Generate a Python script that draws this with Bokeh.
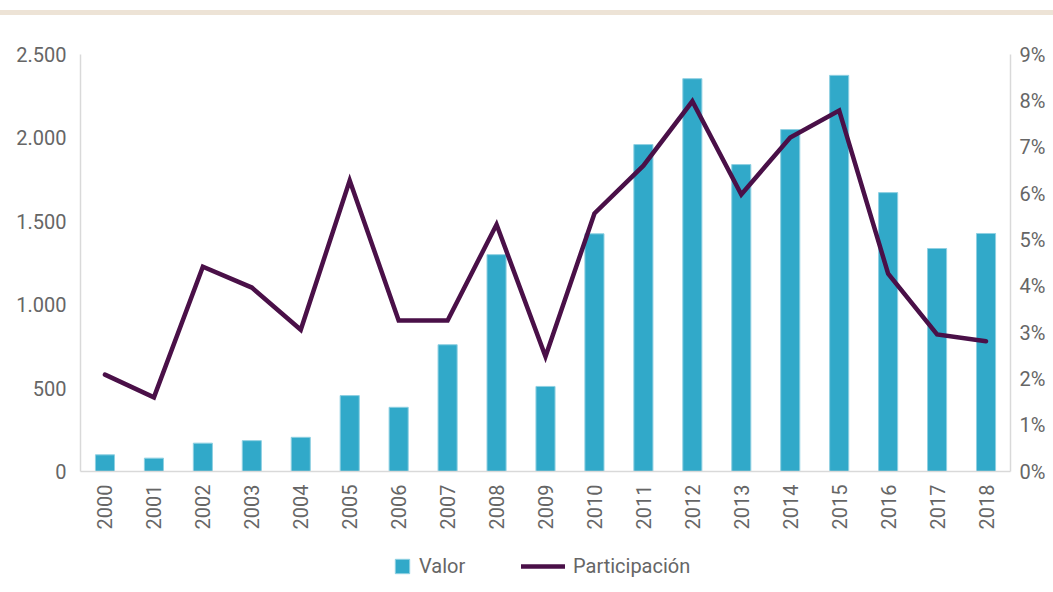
from bokeh.plotting import figure
from bokeh.models import (Range1d, LinearAxis, FactorRange, FixedTicker, Legend,
                          LegendItem, ColumnDataSource, Div)
from bokeh.layouts import column
from bokeh.embed import file_html
from bokeh.resources import INLINE

years = [str(y) for y in range(2000, 2019)]
valor = [100, 80, 170, 185, 205, 455, 385, 760, 1300, 510, 1425,
         1960, 2355, 1840, 2050, 2375, 1672, 1337, 1427]
participacion = [2.09, 1.60, 4.42, 3.97, 3.06, 6.28, 3.26, 3.26, 5.33, 2.48, 5.57,
                 6.60, 7.99, 5.98, 7.21, 7.79, 4.27, 2.96, 2.81]
left_ticks = [0, 500, 1000, 1500, 2000, 2500]
left_labels = ["0", "500", "1.000", "1.500", "2.000", "2.500"]
right_ticks = list(range(0, 10))
right_labels = [f"{t}%" for t in right_ticks]

FONT = "Roboto"
TXT = "#666666"
AXC = "#D9D9D9"
BAR_FILL = "#31A9C9"
BAR_EDGE = "#8FD0E2"
LINE_C = "#4A1048"

src = ColumnDataSource(dict(year=years, valor=valor, part=participacion))

p = figure(x_range=FactorRange(factors=years, range_padding=0),
           y_range=Range1d(0, 2500),
           frame_width=930, frame_height=417,
           output_backend="svg", toolbar_location=None,
           min_border_left=80, min_border_right=40, min_border_top=38,
           min_border_bottom=0)
p.outline_line_color = None
p.xgrid.grid_line_color = None
p.ygrid.grid_line_color = None
p.background_fill_color = "white"
p.border_fill_color = "white"

p.extra_y_ranges = {"pct": Range1d(0, 9)}

bars = p.vbar(x="year", top="valor", width=0.39, source=src,
              fill_color=BAR_FILL, line_color=BAR_EDGE, line_width=1)
line = p.line(x="year", y="part", source=src, y_range_name="pct",
              line_color=LINE_C, line_width=4.5, line_join="miter", line_cap="round")

# left axis
ya = p.yaxis[0]
ya.ticker = FixedTicker(ticks=left_ticks)
ya.major_label_overrides = {t: l for t, l in zip(left_ticks, left_labels)}
ya.axis_line_color = AXC
ya.axis_line_width = 1.5
ya.major_tick_line_color = None
ya.minor_tick_line_color = None
ya.major_label_text_font = FONT
ya.major_label_text_font_size = "20px"
ya.major_label_text_color = TXT
ya.major_label_standoff = 8

# right axis
ra = LinearAxis(y_range_name="pct", ticker=FixedTicker(ticks=right_ticks))
ra.major_label_overrides = {t: l for t, l in zip(right_ticks, right_labels)}
ra.axis_line_color = AXC
ra.axis_line_width = 1.5
ra.major_tick_line_color = None
ra.minor_tick_line_color = None
ra.major_label_text_font = FONT
ra.major_label_text_font_size = "20px"
ra.major_label_text_color = TXT
ra.major_label_standoff = 3
p.add_layout(ra, "right")

# x axis
xa = p.xaxis[0]
xa.axis_line_color = AXC
xa.axis_line_width = 1.5
xa.major_tick_line_color = None
xa.minor_tick_line_color = None
xa.major_label_orientation = 1.5707963
xa.major_label_text_font = FONT
xa.major_label_text_font_size = "20px"
xa.major_label_text_color = TXT
xa.major_label_standoff = 7

# legend in its own small figure; its key renderers hold a placeholder far outside view
lg = figure(width=1050, height=55, output_backend="svg", toolbar_location=None,
            min_border=0, x_range=Range1d(0, 1), y_range=Range1d(0, 1))
lg.axis.visible = False
lg.grid.visible = False
lg.outline_line_color = None
key_src = ColumnDataSource(dict(x=[-500, -499], y=[-500, -500]))
lb = lg.vbar(x="x", top="y", bottom=-501, source=key_src, width=0.4,
             fill_color=BAR_FILL, line_color=BAR_EDGE, line_width=1)
ll = lg.line(x="x", y="y", source=key_src, line_color=LINE_C,
             line_width=4.5, line_cap="round")

common = dict(orientation="horizontal", label_text_font=FONT,
              label_text_font_size="20px", label_text_color=TXT,
              border_line_color=None, background_fill_alpha=0,
              glyph_height=18, padding=0, margin=0, label_standoff=8)
leg1 = Legend(items=[LegendItem(label="Valor", renderers=[lb])],
              location=(313, 9), glyph_width=18, **common)
leg2 = Legend(items=[LegendItem(label="Participación", renderers=[ll])],
              location=(441, 9), glyph_width=44, **common)
lg.add_layout(leg1, "center")
lg.add_layout(leg2, "center")

band = Div(text='<div style="height:5px;margin-top:10px;background:#EDE3D6;width:1053px"></div>',
           width=1050, height=16, margin=0)

layout = column(band, p, lg, spacing=0)

open("out.html", "w").write(file_html(layout, INLINE))
